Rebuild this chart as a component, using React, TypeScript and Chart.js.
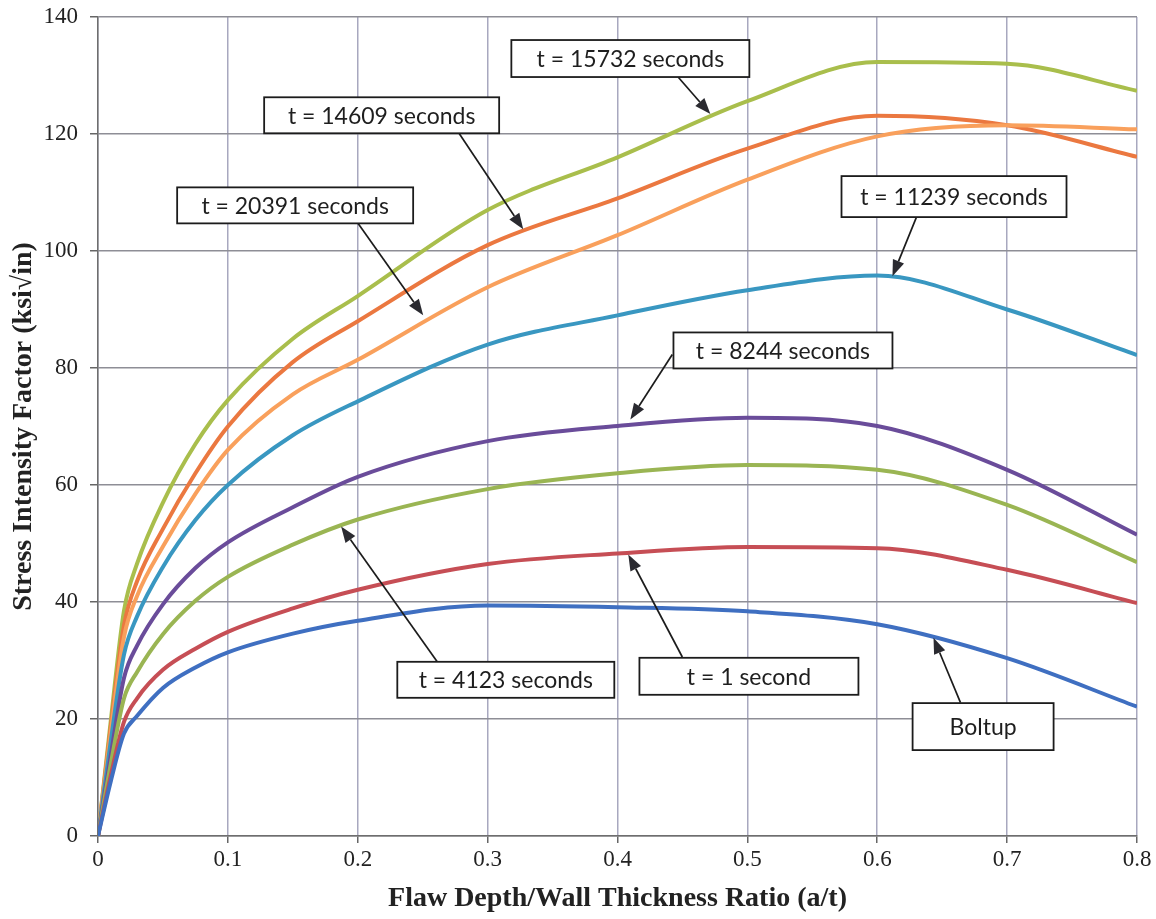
import React, { useEffect, useRef } from "react";
import { Chart, registerables } from "chart.js";

Chart.register(...registerables);

// ---- Data ----
const xRatio = [0, 0.01, 0.02, 0.03, 0.05, 0.075, 0.1, 0.15, 0.2, 0.3, 0.4, 0.5, 0.6, 0.7, 0.8];

const boltup = [0, 9.5, 17.5, 20.5, 25.3, 28.8, 31.4, 34.6, 36.8, 39.4, 39.1, 38.4, 36.2, 30.4, 22.1];
const t1 = [0, 10.5, 19.5, 23.5, 28.4, 32.0, 34.9, 38.9, 42.1, 46.5, 48.3, 49.4, 49.2, 45.5, 39.8];
const t4123 = [0, 12.5, 23.5, 28, 34.5, 40.2, 44.3, 49.8, 54.1, 59.3, 62, 63.4, 62.6, 56.6, 46.8];
const t8244 = [0, 14, 27, 32.5, 39.6, 45.8, 50.2, 56.2, 61.4, 67.5, 70.1, 71.5, 70.1, 62.6, 51.5];
const t11239 = [0, 16.5, 31, 37.5, 46, 54, 60, 68.5, 74.3, 84, 89, 93.3, 95.8, 90, 82.2];
const t20391 = [0, 18, 34, 41, 49.5, 58.5, 66, 75.5, 81.4, 93.8, 102.7, 112.2, 119.6, 121.5, 120.8];
const t14609 = [0, 19, 36, 43.5, 52.5, 62, 70, 81, 88, 101, 109, 117.5, 123.1, 121.5, 116.1];
const t15732 = [0, 20, 38.5, 46.5, 57, 67, 74.5, 85, 92.3, 107, 116, 125.6, 132.3, 132, 127.4];

const seriesNames = [
  "Boltup",
  "t = 1 second",
  "t = 4123 seconds",
  "t = 8244 seconds",
  "t = 11239 seconds",
  "t = 20391 seconds",
  "t = 14609 seconds",
  "t = 15732 seconds",
];
const seriesValues = [boltup, t1, t4123, t8244, t11239, t20391, t14609, t15732];
const seriesColors = [
  "#3F6FC1",
  "#C64E55",
  "#9AB553",
  "#6A4C9A",
  "#3997C1",
  "#F9A05C",
  "#EB7840",
  "#A9BE4C",
];

const yTicks = [0, 20, 40, 60, 80, 100, 120, 140];
const xTicks = [0, 0.1, 0.2, 0.3, 0.4, 0.5, 0.6, 0.7, 0.8];

// Callouts: label, box center (data units), box size (px), arrow tail & head (data units)
const calloutLabels = [
  "t = 15732 seconds",
  "t = 14609 seconds",
  "t = 20391 seconds",
  "t = 11239 seconds",
  "t = 8244 seconds",
  "t = 4123 seconds",
  "t = 1 second",
  "Boltup",
];
const calloutCenters = [
  [0.4099, 132.9],
  [0.2184, 123.2],
  [0.1518, 107.8],
  [0.6591, 109.3],
  [0.5274, 83.0],
  [0.314, 26.7],
  [0.5012, 27.3],
  [0.6815, 18.7],
];
const calloutSizes = [
  [238, 37],
  [235, 36],
  [236, 36],
  [225, 41],
  [219, 36],
  [217, 36],
  [219, 37],
  [141, 47],
];
const arrowTails = [
  [0.4468, 129.7],
  [0.2781, 120.1],
  [0.2003, 104.7],
  [0.6302, 105.8],
  [0.4422, 82.3],
  [0.2612, 29.8],
  [0.4499, 30.6],
  [0.6641, 22.8],
];
const arrowHeads = [
  [0.4715, 123.4],
  [0.3274, 103.7],
  [0.2504, 89.0],
  [0.6117, 95.7],
  [0.4099, 71.2],
  [0.1872, 52.9],
  [0.4083, 48.1],
  [0.6433, 33.9],
];

const calloutPlugin = {
  id: "callouts",
  afterDatasetsDraw(chart: any) {
    const { ctx } = chart;
    const xs = chart.scales.x;
    const ys = chart.scales.y;
    ctx.save();
    // arrows
    for (let i = 0; i < calloutLabels.length; i++) {
      const x0 = xs.getPixelForValue(arrowTails[i][0]);
      const y0 = ys.getPixelForValue(arrowTails[i][1]);
      const x1 = xs.getPixelForValue(arrowHeads[i][0]);
      const y1 = ys.getPixelForValue(arrowHeads[i][1]);
      const ang = Math.atan2(y1 - y0, x1 - x0);
      const headLen = 16;
      const headHalf = 6;
      const bx = x1 - headLen * Math.cos(ang);
      const by = y1 - headLen * Math.sin(ang);
      ctx.strokeStyle = "#1c1c1c";
      ctx.lineWidth = 1.7;
      ctx.beginPath();
      ctx.moveTo(x0, y0);
      ctx.lineTo(bx, by);
      ctx.stroke();
      ctx.fillStyle = "#2a2a30";
      ctx.beginPath();
      ctx.moveTo(x1, y1);
      ctx.lineTo(bx + headHalf * Math.sin(ang), by - headHalf * Math.cos(ang));
      ctx.lineTo(bx - headHalf * Math.sin(ang), by + headHalf * Math.cos(ang));
      ctx.closePath();
      ctx.fill();
    }
    // boxes
    for (let i = 0; i < calloutLabels.length; i++) {
      const cx = xs.getPixelForValue(calloutCenters[i][0]);
      const cy = ys.getPixelForValue(calloutCenters[i][1]);
      const w = calloutSizes[i][0];
      const h = calloutSizes[i][1];
      ctx.fillStyle = "#ffffff";
      ctx.fillRect(cx - w / 2, cy - h / 2, w, h);
      ctx.strokeStyle = "#1c1c1c";
      ctx.lineWidth = 1.8;
      ctx.strokeRect(cx - w / 2, cy - h / 2, w, h);
      ctx.fillStyle = "#1e1e1e";
      ctx.font = "23px Lato";
      ctx.textAlign = "center";
      ctx.textBaseline = "middle";
      ctx.fillText(calloutLabels[i], cx, cy + 1);
    }
    ctx.restore();
  },
};

export default function App() {
  const canvasRef = useRef<HTMLCanvasElement | null>(null);

  useEffect(() => {
    if (!canvasRef.current) return;
    const datasets = seriesNames.map((name, i) => ({
      label: name,
      data: xRatio.map((xv, j) => ({ x: xv, y: seriesValues[i][j] })),
      borderColor: seriesColors[i],
      backgroundColor: seriesColors[i],
      borderWidth: 4,
      pointRadius: 0,
      cubicInterpolationMode: "monotone" as const,
      fill: false,
    }));

    const chart = new Chart(canvasRef.current, {
      type: "line",
      data: { datasets },
      options: {
        animation: false,
        responsive: false,
        maintainAspectRatio: false,
        layout: { padding: { top: 17, right: 19, left: 0, bottom: 0 } },
        plugins: {
          legend: { display: false },
          tooltip: { enabled: false },
        },
        scales: {
          x: {
            type: "linear",
            min: 0,
            max: 0.8,
            afterFit: (scale: any) => {
              scale.height = 83;
              scale.paddingLeft = 0;
              scale.paddingRight = 0;
            },
            afterBuildTicks: (scale: any) => {
              scale.ticks = xTicks.map((v) => ({ value: v }));
            },
            ticks: {
              font: { family: "'Liberation Serif', serif", size: 23 },
              color: "#222",
              padding: 3,
              maxRotation: 0,
              callback: (v: any) => String(Number(Number(v).toFixed(1))),
            },
            grid: {
              color: "#a8a8bf",
              lineWidth: 1.5,
              tickLength: 7,
              tickColor: "#666",
            },
            border: { display: true, color: "#6e6e6e", width: 1.5 },
            title: {
              display: true,
              text: "Flaw Depth/Wall Thickness Ratio (a/t)",
              font: { family: "'Liberation Serif', serif", size: 28, weight: "bold" },
              color: "#222",
              padding: { top: 0, bottom: 3 },
            },
          },
          y: {
            type: "linear",
            min: 0,
            max: 140,
            afterFit: (scale: any) => {
              scale.width = 98;
              scale.paddingTop = 0;
              scale.paddingBottom = 0;
            },
            afterBuildTicks: (scale: any) => {
              scale.ticks = yTicks.map((v) => ({ value: v }));
            },
            ticks: {
              font: { family: "'Liberation Serif', serif", size: 23 },
              color: "#222",
              padding: 12,
            },
            grid: {
              color: "#8e8e96",
              lineWidth: 1.5,
              tickLength: 8,
              tickColor: "#666",
            },
            border: { display: true, color: "#6e6e6e", width: 1.5 },
            title: {
              display: true,
              text: "Stress Intensity Factor (ksi\u221Ain)",
              font: { family: "'Liberation Serif', serif", size: 28, weight: "bold" },
              color: "#222",
              padding: { top: 7, bottom: 0 },
            },
          },
        },
      },
      plugins: [calloutPlugin],
    });

    return () => chart.destroy();
  }, []);

  return (
    <div style={{ position: "absolute", left: 0, top: 0, width: 1156, height: 919, background: "#fff" }}>
      <canvas ref={canvasRef} width={1156} height={919} style={{ display: "block" }} />
    </div>
  );
}
